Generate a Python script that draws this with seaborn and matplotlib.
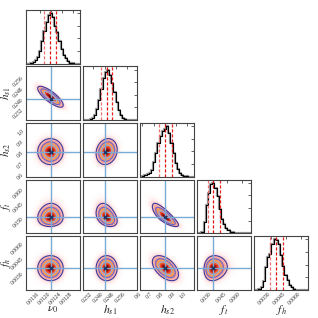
import numpy as np
import pandas as pd
import matplotlib
matplotlib.use("Agg")
import matplotlib.pyplot as plt
from matplotlib.colors import LinearSegmentedColormap
import seaborn as sns

# parameter names and axis setup
labels = [r"$\nu_0$", r"$h_{s1}$", r"$h_{s2}$", r"$f_t$", r"$f_h$"]
ranges = [(0.0111, 0.01305), (0.2245, 0.2635), (0.58, 1.06), (0.014, 0.0695), (0.0013, 0.0067)]
truths = [0.0120, 0.2400, 0.800, 0.0308, 0.00350]

ticks_nu0 = [0.0116, 0.0120, 0.0124, 0.0128]
ticks_hs1 = [0.232, 0.240, 0.248, 0.256]
ticks_hs2 = [0.6, 0.7, 0.8, 0.9, 1.0]
ticks_ft = [0.030, 0.045, 0.060]
ticks_fh = [0.0030, 0.0045, 0.0060]
ticklabels_nu0 = ["0.0116", "0.0120", "0.0124", "0.0128"]
ticklabels_hs1 = ["0.232", "0.240", "0.248", "0.256"]
ticklabels_hs2 = ["0.6", "0.7", "0.8", "0.9", "1.0"]
ticklabels_ft = ["0.030", "0.045", "0.060"]
ticklabels_fh = ["0.0030", "0.0045", "0.0060"]

# 1D marginal histograms, 25 bins over each range (relative counts)
hist_nu0 = [0, 0, 1, 3, 6, 12, 25, 45, 65, 82, 95, 100, 92, 75, 62, 45, 28, 17, 10, 5, 2, 1, 0, 0, 0]
hist_hs1 = [0, 0, 1, 2, 5, 11, 22, 40, 62, 84, 96, 100, 90, 74, 55, 36, 20, 10, 5, 2, 1, 0, 0, 0, 0]
hist_hs2 = [0, 2, 3, 5, 8, 14, 29, 47, 67, 80, 90, 95, 100, 87, 67, 47, 28, 15, 8, 3, 1, 1, 0, 0, 0]
hist_ft = [0, 1, 3, 22, 56, 80, 98, 100, 90, 73, 49, 29, 18, 10, 6, 3, 2, 1, 1, 0, 0, 0, 0, 0, 0]
hist_fh = [0, 0, 2, 6, 17, 45, 66, 72, 90, 100, 98, 90, 69, 48, 29, 20, 10, 5, 2, 1, 0, 0, 0, 0, 0]

# 16/50/84 percent quantiles
q_nu0 = [0.01175, 0.01197, 0.01218]
q_hs1 = [0.2375, 0.2415, 0.2455]
q_hs2 = [0.749, 0.802, 0.867]
q_ft = [0.0256, 0.0308, 0.0376]
q_fh = [0.0029, 0.0035, 0.00417]

# centre / width of the 2D densities, f_t is skewed so it is log-scaled
centre = [0.01198, 0.2415, 0.805, 0.0308, 0.0035]
width = [0.00023, 0.0038, 0.058, 0.19, 0.00063]
log_param = [False, False, False, True, False]
corr = {(0, 1): -0.8, (0, 2): 0.0, (0, 3): 0.05, (0, 4): 0.0,
        (1, 2): 0.15, (1, 3): -0.35, (1, 4): 0.0,
        (2, 3): -0.8, (2, 4): -0.5, (3, 4): 0.1}

ticks = [ticks_nu0, ticks_hs1, ticks_hs2, ticks_ft, ticks_fh]
ticklabels = [ticklabels_nu0, ticklabels_hs1, ticklabels_hs2, ticklabels_ft, ticklabels_fh]
hists = [hist_nu0, hist_hs1, hist_hs2, hist_ft, hist_fh]
quants = [q_nu0, q_hs1, q_hs2, q_ft, q_fh]

sns.set_style("white")
plt.rcParams["font.family"] = ["Liberation Serif", "DejaVu Serif"]
plt.rcParams["mathtext.fontset"] = "stix"

dens_cmap = LinearSegmentedColormap.from_list(
    "dens", [(0.0, "#ffffff"), (0.04, "#fff2f2"), (0.135, "#fbc6c6"), (0.325, "#f58878"),
             (0.5, "#f7a050"), (0.62, "#f59a3a"), (0.8, "#e83020"), (1.0, "#500000")])
cont_colors = ["#3b3a9a", "#6a6ad0", "#98a4e6"]
truth_color = "#7aaad6"
tick_fs = 4.0

n = len(labels)
fig, axes = plt.subplots(n, n, figsize=(3.18, 3.18), dpi=100)
fig.subplots_adjust(left=0.082, right=0.969, top=0.969, bottom=0.088, wspace=0.055, hspace=0.055)


def to_unit(v, k):
    if log_param[k]:
        return (np.log(v) - np.log(centre[k])) / width[k]
    return (v - centre[k]) / width[k]


for i in range(n):
    for j in range(n):
        ax = axes[i, j]
        if j > i:
            ax.set_visible(False)
            continue
        if i == j:
            lo, hi = ranges[i]
            nb = len(hists[i])
            step = (hi - lo) / nb
            hdf = pd.DataFrame({"x": lo + step * (np.arange(nb) + 0.5), "w": hists[i]})
            for col, lw in (("0.6", 1.6), ("k", 0.8)):
                sns.histplot(data=hdf, x="x", weights="w", bins=nb, binrange=(lo, hi),
                             element="step", fill=False, color=col, linewidth=lw, ax=ax)
            q = quants[i]
            ax.axvline(q[0], color="#f07070", ls=(0, (2.5, 1.5)), lw=0.9)
            ax.axvline(q[1], color="#e01010", ls=(0, (2.5, 1.5)), lw=0.9)
            ax.axvline(q[2], color="#e82020", ls=(0, (2.5, 1.5)), lw=0.9)
            ax.set_ylim(0, 1.06 * max(hists[i]))
            ax.set_xlim(lo, hi)
            ax.yaxis.set_major_locator(plt.MaxNLocator(5))
            ax.set_yticklabels([])
            ax.set_ylabel("")
        else:
            xlo, xhi = ranges[j]
            ylo, yhi = ranges[i]
            gx = np.linspace(xlo, xhi, 120)
            gy = np.linspace(ylo, yhi, 120)
            X, Y = np.meshgrid(gx, gy)
            u = to_unit(X, j)
            v = to_unit(Y, i)
            rho = corr[(j, i)]
            r2 = (u ** 2 - 2 * rho * u * v + v ** 2) / (1 - rho ** 2)
            D = np.exp(-0.5 * r2)
            ax.pcolormesh(X, Y, D, cmap=dens_cmap, vmin=0, vmax=1, shading="auto", rasterized=True)
            lev = [np.exp(-0.5 * r ** 2) for r in (2.0, 1.5, 1.0)]
            ax.contour(X, Y, D, levels=lev, colors=cont_colors, linewidths=0.8)
            ax.axvline(truths[j], color=truth_color, lw=1.0)
            ax.axhline(truths[i], color=truth_color, lw=1.0)
            ax.plot(truths[j], truths[i], "s", color="#203a6a", ms=1.5)
            ax.set_xlim(xlo, xhi)
            ax.set_ylim(ylo, yhi)
            ax.set_yticks(ticks[i])
            if j == 0:
                ax.set_yticklabels(ticklabels[i], rotation=45, fontsize=tick_fs)
                ax.set_ylabel(labels[i], fontsize=8)
                ax.yaxis.set_label_coords(-0.235, 0.5)
            else:
                ax.set_yticklabels([])
                ax.set_ylabel("")
        ax.set_xticks(ticks[j])
        if i == n - 1:
            ax.set_xticklabels(ticklabels[j], rotation=45, ha="right", fontsize=tick_fs)
            ax.set_xlabel(labels[j], fontsize=8.5)
            ax.xaxis.set_label_coords(0.5, -0.25)
        else:
            ax.set_xticklabels([])
            ax.set_xlabel("")
        ax.tick_params(direction="in", length=2, width=0.5, top=True, right=True, pad=1)
        for s in ax.spines.values():
            s.set_color("#444444")
            s.set_linewidth(0.8)

fig.savefig("out.png", dpi=100)
